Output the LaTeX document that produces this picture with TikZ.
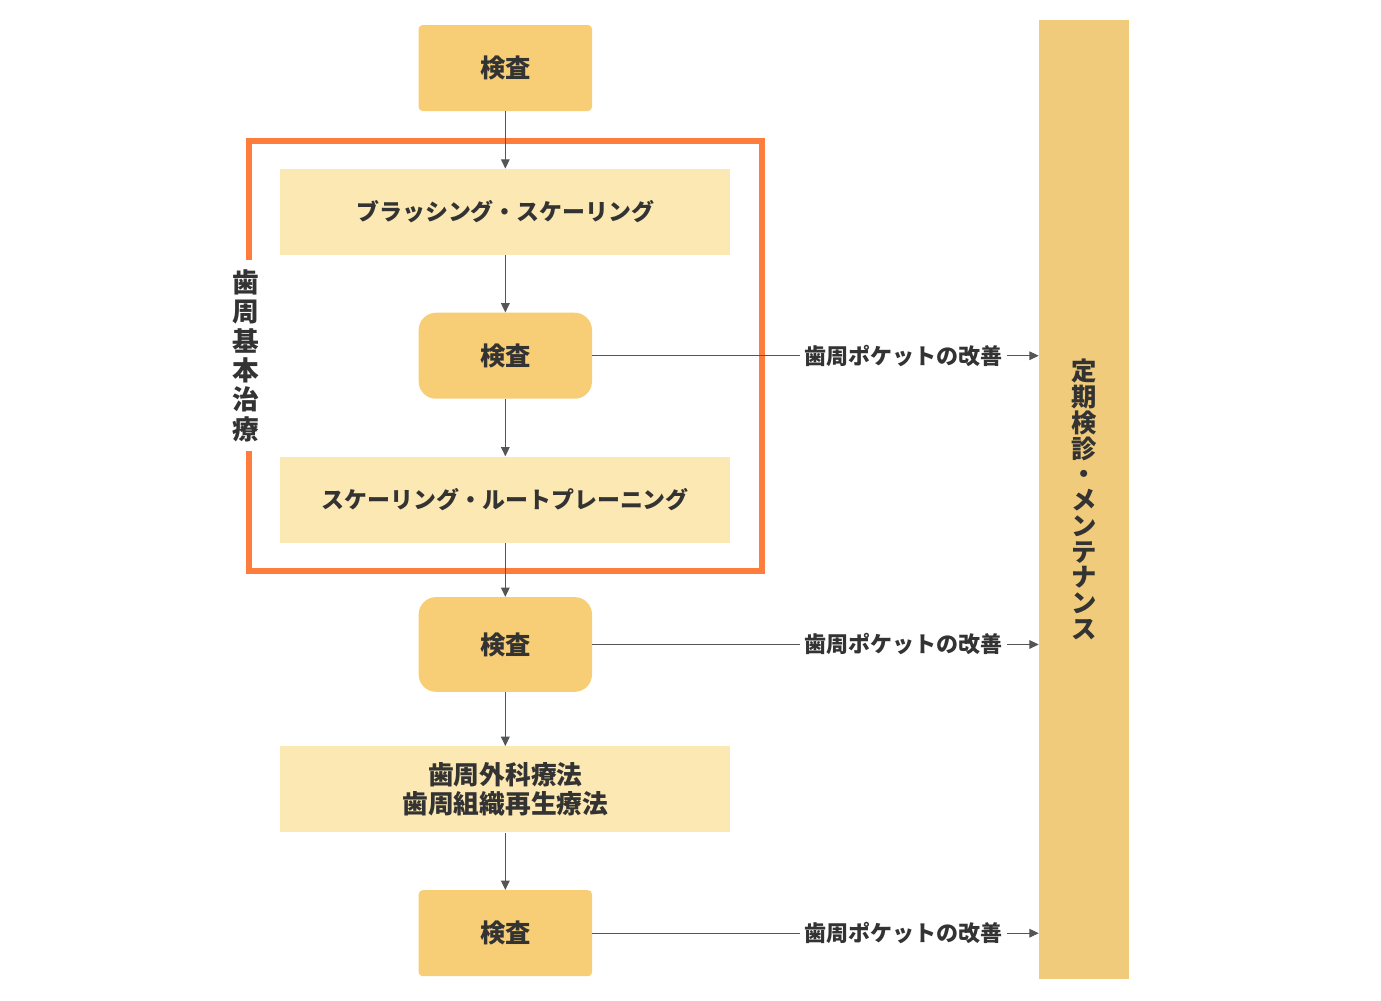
\documentclass[tikz,border=0pt]{standalone}
\usepackage{fontspec}
\setmainfont{Noto Sans CJK JP}
\usetikzlibrary{positioning,arrows.meta,fit}

\definecolor{kensa}{HTML}{F7CD76}
\definecolor{shochi}{HTML}{FCE8B2}
\definecolor{waku}{HTML}{FF7D3C}
\definecolor{mente}{HTML}{F0CB7C}
\definecolor{moji}{HTML}{333333}
\definecolor{sen}{HTML}{555555}

\begin{document}
\begin{tikzpicture} [node distance=43pt,
    kensabox/.style={fill=kensa,rounded corners=3pt,minimum width=130pt,minimum height=64.5pt,text=moji,font=\fontsize{19}{22}\selectfont\bfseries},
    shochibox/.style={fill=shochi,minimum width=337.5pt,minimum height=64.5pt,text=moji,align=center,font=\fontsize{17.2}{22}\selectfont\bfseries},
    pocket/.style={inner xsep=3pt,text=moji,font=\fontsize{16.5}{20}\selectfont\bfseries},
    tate/.style={align=center,text=moji,font=\fontsize{20}{22}\selectfont\bfseries},
    arr/.style={-{Triangle[length=7pt,width=6.5pt]},sen,line width=0.75pt}]
    \useasboundingbox (0,0) rectangle (1035.75pt,-750pt);

    % main column
    \node[kensabox] (k1) at (379pt,-51pt) {検査};
    \node[shochibox,below=of k1] (brush) {ブラッシング・スケーリング};
    \node[kensabox,rounded corners=13pt,below=of brush] (k2) {検査};
    \node[shochibox,below=of k2] (scal) {スケーリング・ルートプレーニング};
    \node[kensabox,rounded corners=13pt,minimum height=71pt,below=40.5pt of scal] (k3) {検査};
    \node[shochibox,font=\fontsize{19.3}{22}\selectfont\bfseries,below=40.5pt of k3] (geka) {歯周外科療法\\歯周組織再生療法};
    \node[kensabox,below=of geka] (k4) {検査};

    % frame
    \node[draw=waku,line width=4.5pt,fit=(brush)(scal),inner xsep=23.5pt,inner ysep=21pt] (kihon) {};
    \node[tate,fill=white,inner xsep=2pt,inner ysep=7pt] (kihonlbl) at (kihon.west) {歯\\周\\基\\本\\治\\療};

    % maintenance bar
    \node[fill=mente,minimum width=67.5pt,minimum height=719.25pt,tate,font=\fontsize{19}{19.3}\selectfont\bfseries] (mente) at (813pt,-374.6pt)
        {定\\期\\検\\診\\・\\メ\\ン\\テ\\ナ\\ン\\ス};

    \node[pocket,right=156pt of k2] (p2) {歯周ポケットの改善};
    \node[pocket,right=156pt of k3] (p3) {歯周ポケットの改善};
    \node[pocket,right=156pt of k4] (p4) {歯周ポケットの改善};

    \draw[arr] (k1) -- (brush);
    \draw[arr] (brush) -- (k2);
    \draw[arr] (k2) -- (scal);
    \draw[arr] (scal) -- (k3);
    \draw[arr] (k3) -- (geka);
    \draw[arr] (geka) -- (k4);

    \draw[sen,line width=0.75pt] (k2) -- (p2);
    \draw[sen,line width=0.75pt] (k3) -- (p3);
    \draw[sen,line width=0.75pt] (k4) -- (p4);
    \draw[arr] (p2) -- (p2 -| mente.west);
    \draw[arr] (p3) -- (p3 -| mente.west);
    \draw[arr] (p4) -- (p4 -| mente.west);
\end{tikzpicture}
\end{document}
